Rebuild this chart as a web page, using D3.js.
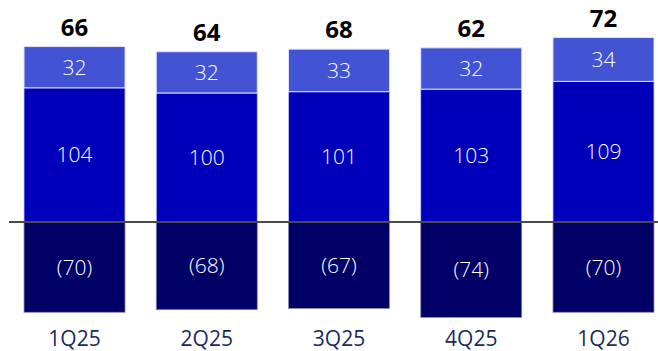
<!DOCTYPE html>
<html>
<head>
<meta charset="utf-8">
<script src="https://cdn.jsdelivr.net/npm/d3@7"></script>
<style>
  body { margin: 0; background: #fff; }
  svg { display: block; font-family: "Open Sans", "DejaVu Sans", sans-serif; }
</style>
</head>
<body>
<svg id="chart"></svg>
<script>
// chart data
const quarters = ["1Q25", "2Q25", "3Q25", "4Q25", "1Q26"];
const topPart = [32, 32, 33, 32, 34];
const midPart = [104, 100, 101, 103, 109];
const negPart = [-70, -68, -67, -74, -70];
const totals = [66, 64, 68, 62, 72];

const w = 658, h = 351;
const zeroY = 222;

const svg = d3.select("#chart")
  .attr("width", w)
  .attr("height", h);

// x positions of the bars
const x = d3.scaleBand()
  .domain(quarters)
  .range([8.4, 669.6])
  .paddingInner(0.236)
  .paddingOuter(0.118);

// about 1.29 px per unit
const y = d3.scaleLinear()
  .domain([0, 100])
  .range([zeroY, zeroY - 129]);

const rows = quarters.map((q, i) => ({
  q: q,
  top: topPart[i],
  mid: midPart[i],
  neg: negPart[i],
  total: totals[i]
}));

const groups = svg.selectAll("g.bar")
  .data(rows)
  .enter()
  .append("g")
  .attr("class", "bar");

// negative part, below the zero line
groups.append("rect")
  .attr("x", d => x(d.q))
  .attr("y", y(0))
  .attr("width", x.bandwidth())
  .attr("height", d => y(d.neg) - y(0))
  .attr("fill", "#000066")
  .attr("stroke", "#8e90b4")
  .attr("stroke-width", 0.8);

// middle part
groups.append("rect")
  .attr("x", d => x(d.q))
  .attr("y", d => y(d.mid))
  .attr("width", x.bandwidth())
  .attr("height", d => y(0) - y(d.mid))
  .attr("fill", "#0000bb")
  .attr("stroke", "#c9ccf0")
  .attr("stroke-width", 0.8);

// top part
groups.append("rect")
  .attr("x", d => x(d.q))
  .attr("y", d => y(d.mid + d.top))
  .attr("width", x.bandwidth())
  .attr("height", d => y(d.mid) - y(d.mid + d.top))
  .attr("fill", "#4254d4")
  .attr("stroke", "#dfe2f7")
  .attr("stroke-width", 1);

// zero line
svg.append("line")
  .attr("x1", 9)
  .attr("x2", w)
  .attr("y1", zeroY)
  .attr("y2", zeroY)
  .attr("stroke", "#4a4a4a")
  .attr("stroke-width", 2);

const cx = d => x(d.q) + x.bandwidth() / 2;

// labels inside the segments
groups.append("text")
  .attr("x", cx)
  .attr("y", d => (y(d.mid) + y(d.mid + d.top)) / 2)
  .attr("dy", "0.36em")
  .attr("text-anchor", "middle")
  .attr("fill", "#fff")
  .attr("font-size", 21)
  .attr("font-weight", 300)
  .text(d => d.top);

groups.append("text")
  .attr("x", cx)
  .attr("y", d => (y(0) + y(d.mid)) / 2)
  .attr("dy", "0.36em")
  .attr("text-anchor", "middle")
  .attr("fill", "#fff")
  .attr("font-size", 21)
  .attr("font-weight", 300)
  .text(d => d.mid);

groups.append("text")
  .attr("x", cx)
  .attr("y", d => (y(0) + y(d.neg)) / 2)
  .attr("dy", "0.36em")
  .attr("text-anchor", "middle")
  .attr("fill", "#fff")
  .attr("font-size", 21)
  .attr("font-weight", 300)
  .text(d => "(" + Math.abs(d.neg) + ")");

// totals above the bars
groups.append("text")
  .attr("x", cx)
  .attr("y", d => y(d.mid + d.top) - 11)
  .attr("text-anchor", "middle")
  .attr("fill", "#000")
  .attr("font-size", 24)
  .attr("font-weight", 700)
  .text(d => d.total);

// quarter labels under the bars
svg.append("g")
  .selectAll("text")
  .data(quarters)
  .enter()
  .append("text")
  .attr("x", d => x(d) + x.bandwidth() / 2)
  .attr("y", 346)
  .attr("text-anchor", "middle")
  .attr("fill", "#1b2a5e")
  .attr("font-size", 21)
  .text(d => d);
</script>
</body>
</html>
